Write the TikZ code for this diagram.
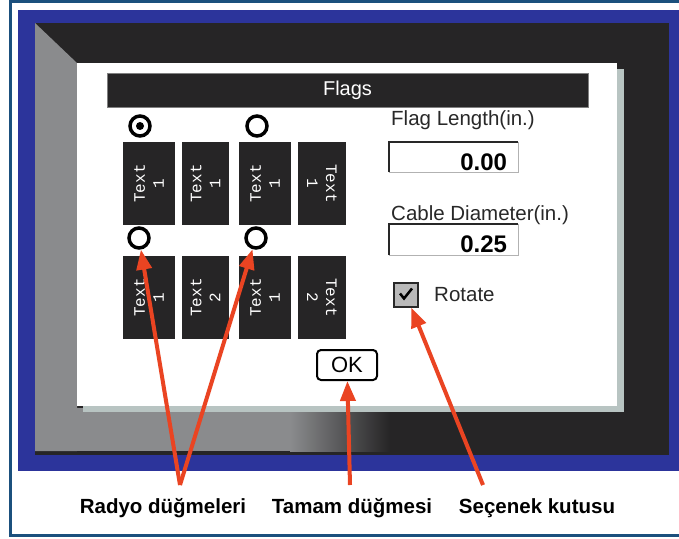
\documentclass[tikz,border=0pt]{standalone}
\usepackage{fontspec}
\setmainfont{Liberation Sans}
\newfontfamily\tagfont{Liberation Mono}
\usetikzlibrary{arrows.meta}
\definecolor{framecol}{RGB}{27,80,125}
\definecolor{bezel}{RGB}{44,52,155}
\definecolor{screendark}{RGB}{38,37,38}
\definecolor{panelgray}{RGB}{138,139,141}
\definecolor{shadowgray}{RGB}{184,196,194}
\definecolor{arrowred}{RGB}{234,68,34}
\definecolor{ink}{RGB}{40,40,40}
\begin{document}
\begin{tikzpicture}[x=1pt, y=-1pt]
\tikzstyle{tag}=[fill=screendark, text=white, font=\tagfont\fontsize{16}{19}\selectfont, align=center, inner sep=0pt]
\tikzstyle{radio}=[circle, draw=black, line width=3.5pt, fill=white, minimum size=20pt, inner sep=0pt]
\tikzstyle{lbl}=[anchor=base west, text=ink, font=\fontsize{20.5}{24}\selectfont, inner sep=0pt]
\tikzstyle{field}=[draw=gray!60, fill=white, minimum width=129pt, inner sep=0pt]
\tikzstyle{digits}=[anchor=base east, font=\bfseries\fontsize{24}{24}\selectfont, inner sep=0pt]
\tikzstyle{note}=[anchor=base, font=\bfseries\fontsize{20.5}{24}\selectfont, inner sep=0pt]
\tikzstyle{callout}=[arrowred, line width=4pt, -{Triangle[length=20pt, width=15pt]}]

\useasboundingbox (0,0) rectangle (679,538);
\draw[framecol, line width=3pt] (679,1.5) -| (10,535.5) -- (679,535.5);
\fill[bezel] (18,10) rectangle (679,471);
\fill[screendark] (35,23) rectangle (669,455);
\fill[panelgray] (35,23) -- (77,63) -- (77,451) -- (35,451) -- cycle;
\fill[panelgray] (77,408) rectangle (290,451);
\shade[left color=panelgray, right color=screendark] (290,408) rectangle (390,451);
\fill[shadowgray] (83,69) rectangle (624,412);
\fill[white] (77,63) rectangle (617,406);

\node[fill=screendark, draw=gray, text=white, minimum width=481pt, minimum height=34pt, font=\fontsize{20}{24}\selectfont] (T0) at (347.5,90) {Flags};

\node[radio] (R1) at (140,126) {};
\node[radio] (R2) at (257,126) {};
\node[radio] (R3) at (139,238) {};
\node[radio] (R4) at (256,238) {};
\fill (R1.center) circle (4pt);

\node[tag, rotate=90, minimum width=83pt, minimum height=52pt] (F1) at (149,183.5) {Text\\1};
\node[tag, rotate=90, minimum width=83pt, minimum height=47pt] (F2) at (205.5,183.5) {Text\\1};
\node[tag, rotate=90, minimum width=83pt, minimum height=52pt] (F3) at (265,183.5) {Text\\1};
\node[tag, rotate=-90, minimum width=83pt, minimum height=48pt] (F4) at (322,183.5) {Text\\1};
\node[tag, rotate=90, minimum width=83pt, minimum height=52pt] (F5) at (149,297.5) {Text\\1};
\node[tag, rotate=90, minimum width=83pt, minimum height=47pt] (F6) at (205.5,297.5) {Text\\2};
\node[tag, rotate=90, minimum width=83pt, minimum height=52pt] (F7) at (265,297.5) {Text\\1};
\node[tag, rotate=-90, minimum width=83pt, minimum height=48pt] (F8) at (322,297.5) {Text\\2};

\node[lbl] (L1) at (391,125) {Flag Length(in.)};
\node[field, minimum height=30pt] (V1) at (453.5,157) {};
\draw[ink, line width=2.5pt] (V1.south west) |- (V1.north east);
\node[digits] (D1) at ([xshift=-11pt, yshift=-13pt]V1.east) {0.00};

\node[lbl] (L2) at (391,220) {Cable Diameter(in.)};
\node[field, minimum height=31pt] (V2) at (453.5,239.5) {};
\draw[ink, line width=2.5pt] (V2.south west) |- (V2.north east);
\node[digits] (D2) at ([xshift=-11pt, yshift=-12.5pt]V2.east) {0.25};

\node[draw=ink, line width=2pt, fill=gray!55, minimum size=24pt] (C1) at (406,294.5) {};
\draw[black, line width=2.5pt] ([shift={(-6,-1)}]C1.center) -- ([shift={(-2,4)}]C1.center) -- ([shift={(6,-6)}]C1.center);
\node[lbl] (L3) at (434,301) {Rotate};

\node[draw, fill=white, line width=2pt, rounded corners=4pt, minimum width=60pt, minimum height=30pt, font=\fontsize{22}{24}\selectfont] (B1) at (347,365) {OK};

\node[note] (N1) at (163,513) {Radyo düğmeleri};
\node[note] (N2) at (352,513) {Tamam düğmesi};
\node[note] (N3) at (537,513) {Seçenek kutusu};
\coordinate (A1) at (180,485);
\coordinate (A2) at (350,485);
\coordinate (A3) at (483,485);

\draw[callout] (A1) -- (R3);
\draw[callout] (A1) -- (R4);
\draw[callout] (A2) -- (B1);
\draw[callout] (A3) -- (C1);
\end{tikzpicture}
\end{document}
